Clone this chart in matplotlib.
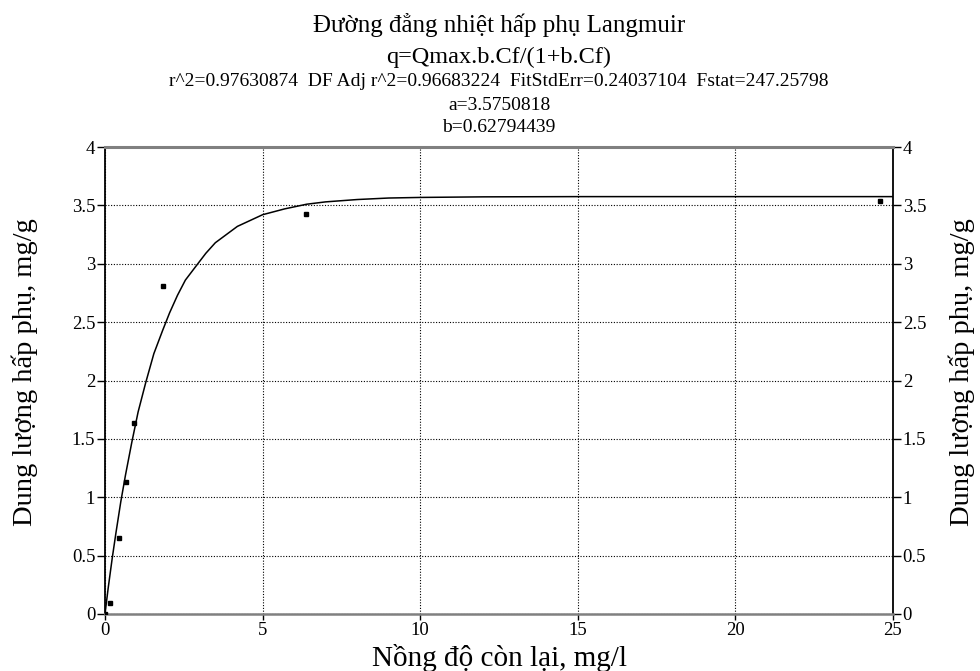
import matplotlib
matplotlib.use("Agg")
import matplotlib.pyplot as plt

plt.rcParams['font.family'] = ['Liberation Serif', 'DejaVu Serif']

# Measured data points
cf_data = [0.0, 0.16, 0.45, 0.67, 0.91, 1.85, 6.38, 24.6]
q_data = [0.0, 0.09, 0.65, 1.13, 1.64, 2.81, 3.43, 3.54]

# Fitted curve
cf_fit = [0.0, 0.1, 0.23, 0.35, 0.5, 0.65, 0.85, 1.05, 1.29, 1.55, 1.83, 2.05,
          2.3, 2.55, 2.86, 3.2, 3.5, 3.8, 4.2, 4.6, 5.0, 5.7, 6.4, 7.0, 8.0,
          9.0, 10.0, 12.0, 15.0, 20.0, 25.0]
q_fit = [0.0, 0.22, 0.48, 0.70, 0.96, 1.19, 1.47, 1.73, 1.98, 2.23, 2.43, 2.58,
         2.73, 2.86, 2.97, 3.09, 3.18, 3.24, 3.32, 3.37, 3.42, 3.47, 3.51, 3.53,
         3.55, 3.563, 3.568, 3.573, 3.575, 3.575, 3.575]

x_ticks = [0, 5, 10, 15, 20, 25]
y_ticks = [0, 0.5, 1, 1.5, 2, 2.5, 3, 3.5, 4]
y_ticklabels = ["0", "0.5", "1", "1.5", "2", "2.5", "3", "3.5", "4"]

title = "Đường đẳng nhiệt hấp phụ Langmuir"
eq = "q=Qmax.b.Cf/(1+b.Cf)"
stats = "r^2=0.97630874  DF Adj r^2=0.96683224  FitStdErr=0.24037104  Fstat=247.25798"
a_txt = "a=3.5750818"
b_txt = "b=0.62794439"
xlabel = "Nồng độ còn lại, mg/l"
ylabel = "Dung lượng hấp phụ, mg/g"

W, H = 980, 671
fig = plt.figure(figsize=(W / 100, H / 100), dpi=100)
left, right, top, bottom = 105, 893, 147, 614
ax = fig.add_axes([left / W, 1 - bottom / H, (right - left) / W, (bottom - top) / H])

ax.plot(cf_fit, q_fit, color='black', lw=1.1, zorder=3)
ax.plot(cf_data, q_data, linestyle='none', marker='s', ms=3.2, color='black', zorder=4)

ax.set_xlim(0, 25)
ax.set_ylim(0, 4)
ax.set_xticks(x_ticks)
ax.set_yticks(y_ticks)
ax.set_yticklabels(y_ticklabels)
ax.grid(True, linestyle=(0, (1, 1.5)), color='black', lw=0.8)

ax.tick_params(axis='both', labelsize=13.5, direction='out', color='black')
ax.tick_params(axis='y', length=6, width=1, pad=1, left=True, right=True,
               labelleft=True, labelright=True)
ax.tick_params(axis='x', length=4, width=1, pad=2)

for s in ['left', 'right']:
    ax.spines[s].set_color('black')
    ax.spines[s].set_linewidth(1.3)
ax.spines['top'].set_color('#808080')
ax.spines['top'].set_linewidth(2.2)
ax.spines['bottom'].set_color('#808080')
ax.spines['bottom'].set_linewidth(1.8)

cx = (left + right) / 2 / W
fig.text(cx, 1 - 32 / H, title, ha='center', va='baseline', fontsize=18)
fig.text(cx, 1 - 63 / H, eq, ha='center', va='baseline', fontsize=17.5)
fig.text(cx, 1 - 86 / H, stats, ha='center', va='baseline', fontsize=14)
fig.text(cx, 1 - 110 / H, a_txt, ha='center', va='baseline', fontsize=14)
fig.text(cx, 1 - 132 / H, b_txt, ha='center', va='baseline', fontsize=14)

fig.text(cx, 1 - 666 / H, xlabel, ha='center', va='baseline', fontsize=21)
ymid = 1 - 372 / H
fig.text(25 / W, ymid, ylabel, rotation=90, ha='center', va='center', fontsize=20.5)
fig.text(962 / W, ymid, ylabel, rotation=90, ha='center', va='center', fontsize=20.5)

fig.savefig("out.png", dpi=100)
